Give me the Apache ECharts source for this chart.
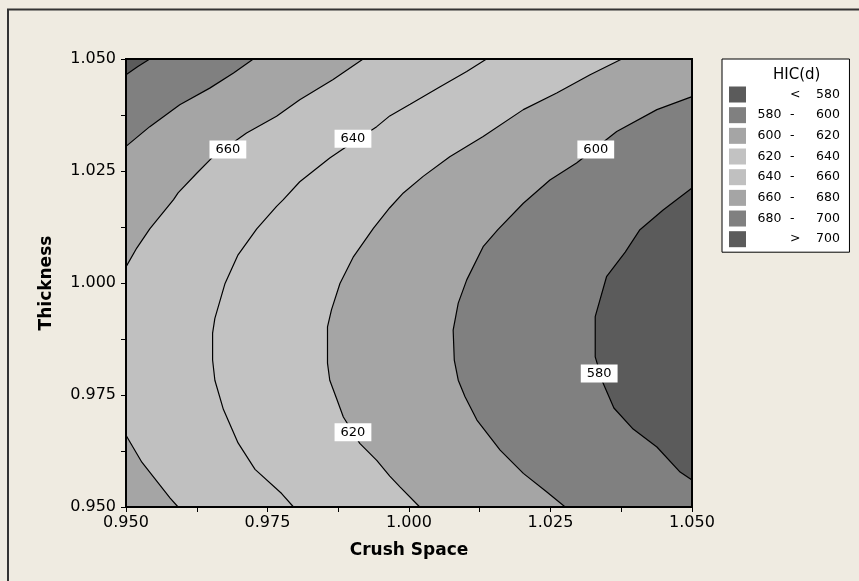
<!DOCTYPE html>
<html><head><meta charset="utf-8">
<script src="https://cdn.jsdelivr.net/npm/echarts@6/dist/echarts.min.js"></script>
<style>html,body{margin:0;padding:0;background:#efebe1;overflow:hidden}#c{width:859px;height:581px}</style>
</head><body><div id="c"></div>
<script>
// ---- data ----
const xTickValues = [0.950, 0.975, 1.000, 1.025, 1.050];
const yTickValues = [0.950, 0.975, 1.000, 1.025, 1.050];
const levelNames = ['< 580', '580 - 600', '600 - 620', '620 - 640', '640 - 660', '660 - 680', '680 - 700', '> 700'];

// contour lines [Crush Space, Thickness]
const contour700 = [[0.9500,1.0465],[0.9521,1.0483],[0.9542,1.0500]];
const contour680 = [[0.9500,1.0305],[0.9542,1.0349],[0.9595,1.0398],[0.9648,1.0435],[0.9690,1.0469],[0.9725,1.0500]];
const contour660a = [[0.9500,1.0036],[0.9519,1.0078],[0.9542,1.0121],[0.9584,1.0186],[0.9592,1.0201],[0.9625,1.0245],[0.9654,1.0282],[0.9713,1.0335],[0.9766,1.0372],[0.9807,1.0409],[0.9866,1.0454],[0.9919,1.0500]];
const contour660b = [[0.9500,0.9660],[0.9528,0.9600],[0.9578,0.9520],[0.9592,0.9500]];
const contour640 = [[1.0137,1.0500],[1.0102,1.0472],[1.0055,1.0438],[1.0002,1.0399],[0.9966,1.0373],[0.9943,1.0349],[0.9901,1.0314],[0.9860,1.0279],[0.9807,1.0226],[0.9778,1.0186],[0.9766,1.0171],[0.9731,1.0121],[0.9698,1.0063],[0.9675,0.9999],[0.9657,0.9921],[0.9653,0.9888],[0.9653,0.9828],[0.9657,0.9783],[0.9672,0.9718],[0.9698,0.9643],[0.9728,0.9584],[0.9775,0.9530],[0.9796,0.9500]];
const contour620 = [[1.0376,1.0500],[1.0320,1.0465],[1.0261,1.0424],[1.0202,1.0387],[1.0131,1.0327],[1.0072,1.0282],[1.0025,1.0238],[0.9990,1.0201],[0.9966,1.0168],[0.9937,1.0122],[0.9902,1.0059],[0.9878,0.9999],[0.9863,0.9940],[0.9856,0.9902],[0.9856,0.9821],[0.9860,0.9783],[0.9873,0.9739],[0.9884,0.9701],[0.9913,0.9642],[0.9943,0.9604],[0.9966,0.9569],[0.9984,0.9545],[1.0019,0.9500]];
const contour600 = [[1.0500,1.0416],[1.0438,1.0387],[1.0367,1.0338],[1.0296,1.0268],[1.0249,1.0230],[1.0202,1.0178],[1.0157,1.0119],[1.0131,1.0081],[1.0102,1.0007],[1.0087,0.9955],[1.0078,0.9895],[1.0080,0.9828],[1.0087,0.9783],[1.0099,0.9746],[1.0120,0.9694],[1.0161,0.9627],[1.0202,0.9575],[1.0243,0.9534],[1.0276,0.9500]];
const contour580 = [[1.0500,1.0212],[1.0449,1.0163],[1.0408,1.0119],[1.0382,1.0069],[1.0349,1.0014],[1.0329,0.9925],[1.0329,0.9835],[1.0343,0.9776],[1.0362,0.9721],[1.0396,0.9674],[1.0438,0.9634],[1.0479,0.9578],[1.0500,0.9560]];

// contour labels
const labelTexts = ['660', '640', '620', '600', '580'];
const labelX = [0.9680, 0.9901, 0.9901, 1.0330, 1.0336];
const labelY = [1.0298, 1.0322, 0.9667, 1.0298, 0.9798];

// ---- styles ----
const FONT = 'DejaVu Sans';
const levelColors = {
  '< 580': '#5b5b5b', '580 - 600': '#808080', '600 - 620': '#a5a5a5', '620 - 640': '#c2c2c2',
  '640 - 660': '#c0c0c0', '660 - 680': '#a5a5a5', '680 - 700': '#808080', '> 700': '#5b5b5b'
};

const X0 = xTickValues[0], X1 = xTickValues[xTickValues.length - 1];
const Y0 = yTickValues[0], Y1 = yTickValues[yTickValues.length - 1];

// filled bands (painted in this order)
const bands = [
  { name: '640 - 660', polys: [[[X0, Y0], [X1, Y0], [X1, Y1], [X0, Y1]]] },
  { name: '620 - 640', polys: [contour640.concat([[X1, Y0], [X1, Y1]])] },
  { name: '600 - 620', polys: [contour620.concat([[X1, Y0], [X1, Y1]])] },
  { name: '580 - 600', polys: [contour600.concat([[X1, Y0]])] },
  { name: '< 580', polys: [contour580] },
  { name: '660 - 680', polys: [contour660a.concat([[X0, Y1]]), contour660b.concat([[X0, Y0]])] },
  { name: '680 - 700', polys: [contour680.concat([[X0, Y1]])] },
  { name: '> 700', polys: [contour700.concat([[X0, Y1]])] }
];

const series = [];
bands.forEach((b, i) => {
  const color = levelColors[b.name];
  series.push({
    type: 'custom', name: b.name, silent: true, z: 1 + i * 0.01,
    itemStyle: { color: color },
    data: b.polys.map(p => p[0]),
    renderItem: (params, api) => ({
      type: 'polygon',
      shape: { points: b.polys[params.dataIndex].map(pt => api.coord(pt)) },
      style: { fill: color, stroke: null }
    })
  });
});

[contour700, contour680, contour660a, contour660b, contour640, contour620, contour600, contour580].forEach(c => {
  series.push({
    type: 'line', data: c, symbol: 'none', silent: true, z: 5,
    lineStyle: { color: '#000', width: 1.2 }
  });
});

series.push({
  type: 'custom', silent: true, z: 8,
  data: labelX.map((x, i) => [x, labelY[i]]),
  renderItem: (params, api) => {
    const p = api.coord([api.value(0), api.value(1)]);
    return {
      type: 'text', x: p[0], y: p[1],
      style: {
        text: labelTexts[params.dataIndex], textAlign: 'center', textVerticalAlign: 'middle',
        fontSize: 13, fontFamily: FONT, fill: '#000', lineHeight: 15,
        backgroundColor: '#fff', padding: [2, 6, 1, 6]
      }
    };
  }
});

const tickFmt = v => (Math.round(v * 10000) % 250 === 0 ? v.toFixed(3) : '');

const LF = 12.5;
const legendRich = {
  s: { width: 6.6, fontSize: LF, fontFamily: FONT, color: '#000', lineHeight: 16 },
  a: { width: 32.4, fontSize: LF, fontFamily: FONT, color: '#000', lineHeight: 16 },
  b: { width: 26, fontSize: LF, fontFamily: FONT, color: '#000', lineHeight: 16 },
  c: { width: 23, fontSize: LF, fontFamily: FONT, color: '#000', lineHeight: 16 }
};

const option = {
  backgroundColor: '#efebe1',
  animation: false,
  grid: { left: 126, top: 59, width: 566, height: 448, show: true, borderColor: '#000', borderWidth: 2, backgroundColor: 'transparent', z: 10 },
  xAxis: {
    type: 'value', min: X0, max: X1, interval: 0.0125, z: 10,
    axisLine: { show: true, onZero: false, lineStyle: { color: '#000', width: 2 } },
    axisTick: { show: true, length: 5, lineStyle: { color: '#000', width: 1 } },
    splitLine: { show: false },
    axisLabel: { formatter: tickFmt, fontSize: 16, fontFamily: FONT, color: '#000', margin: 8, showMinLabel: true, showMaxLabel: true },
    name: 'Crush Space', nameLocation: 'middle', nameGap: 35,
    nameTextStyle: { fontWeight: 'bold', fontSize: 17, fontFamily: FONT, color: '#000' }
  },
  yAxis: {
    type: 'value', min: Y0, max: Y1, interval: 0.0125, z: 10,
    axisLine: { show: true, onZero: false, lineStyle: { color: '#000', width: 2 } },
    axisTick: { show: true, length: 5, lineStyle: { color: '#000', width: 1 } },
    splitLine: { show: false },
    axisLabel: { formatter: tickFmt, fontSize: 16, fontFamily: FONT, color: '#000', margin: 10, showMinLabel: true, showMaxLabel: true },
    name: 'Thickness', nameLocation: 'middle', nameGap: 71, nameRotate: 90,
    nameTextStyle: { fontWeight: 'bold', fontSize: 17, fontFamily: FONT, color: '#000' }
  },
  legend: {
    data: levelNames.map(n => ({ name: n, itemStyle: { color: levelColors[n], borderWidth: 0 } })),
    orient: 'vertical', left: 722, top: 59,
    padding: [27.5, 9.6, 5, 7], itemWidth: 17, itemHeight: 16, itemGap: 4.67,
    backgroundColor: '#fff', borderColor: '#000', borderWidth: 1,
    icon: 'rect', selectedMode: false,
    formatter: name => {
      if (name[0] === '<' || name[0] === '>') {
        return '{s| }{a| }{b|' + name[0] + '}{c|' + name.slice(2) + '}';
      }
      const parts = name.split(' - ');
      return '{s| }{a|' + parts[0] + '}{b|-}{c|' + parts[1] + '}';
    },
    textStyle: { color: '#000', fontSize: LF, fontFamily: FONT, lineHeight: 16, rich: legendRich }
  },
  graphic: [
    { type: 'polyline', z: 100, silent: true, shape: { points: [[8, 700], [8, 9.5], [2000, 9.5]] }, style: { fill: null, stroke: '#333', lineWidth: 2 } },
    { type: 'text', z: 100, silent: true, x: 796.7, y: 75, style: { text: 'HIC(d)', textAlign: 'center', textVerticalAlign: 'middle', fontSize: 15, fontFamily: FONT, fill: '#000' } }
  ],
  series: series
};

const chart = echarts.init(document.getElementById('c'), null, { renderer: 'canvas' });
chart.setOption(option);
</script>
</body></html>
